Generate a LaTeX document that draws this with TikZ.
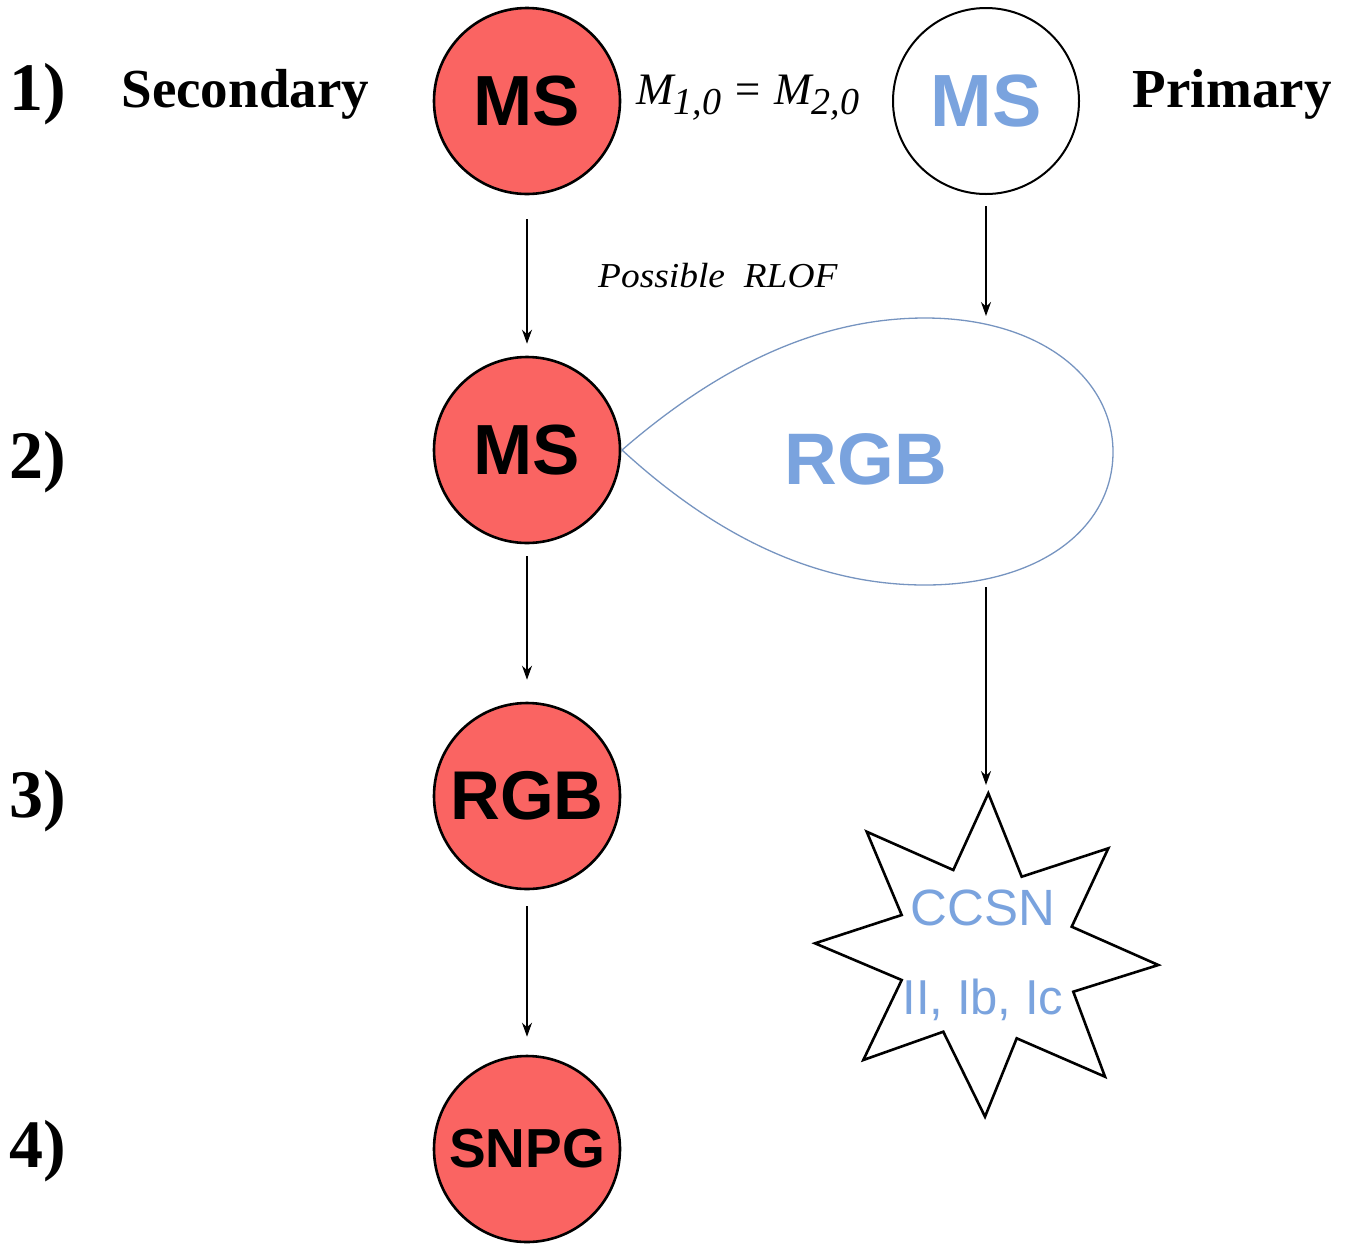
\documentclass[tikz,border=0pt]{standalone}
\usepackage{fontspec}
\setmainfont{Liberation Serif}
\newfontfamily\hv{Liberation Sans}
\usetikzlibrary{arrows.meta}
\definecolor{redfill}{RGB}{250,100,98}
\definecolor{bluetext}{RGB}{122,163,222}
\definecolor{tearline}{RGB}{118,148,192}
\tikzset{
  redcirc/.style={circle, draw=black, line width=2.6pt, fill=redfill, minimum size=186pt, inner sep=0pt, font=\hv\bfseries},
  whitecirc/.style={circle, draw=black, line width=2pt, fill=white, minimum size=186pt, inner sep=0pt, font=\hv\bfseries, text=bluetext},
  arr/.style={line width=1.4pt, -{Stealth[length=14pt,width=10pt]}},
  steplabel/.style={anchor=base west, font=\bfseries\fontsize{68}{68}\selectfont},
  sidelabel/.style={font=\bfseries\fontsize{55}{55}\selectfont},
}
\begin{document}
\begin{tikzpicture}[x=1pt,y=-1pt]
\useasboundingbox (0,0) rectangle (1351,1243);
% step labels
\node[steplabel] (l1) at (6,110) {1)};
\node[steplabel] (l2) at (6,478) {2)};
\node[steplabel] (l3) at (6,817) {3)};
\node[steplabel] (l4) at (6,1167) {4)};
\node[sidelabel, anchor=base west] (sec) at (118,107) {Secondary};
\node[sidelabel, anchor=base east] (pri) at (1335,107) {Primary};
% secondary column
\node[redcirc, font=\hv\bfseries\fontsize{71}{71}\selectfont] (ms1) at (527,101) {MS};
\node[redcirc, font=\hv\bfseries\fontsize{71}{71}\selectfont] (ms2) at (527,450) {MS};
\node[redcirc, font=\hv\bfseries\fontsize{69}{69}\selectfont] (rgb3) at (527,796) {RGB};
\node[redcirc, font=\hv\bfseries\fontsize{55}{55}\selectfont] (snpg) at (527,1149) {SNPG};
% primary
\node[whitecirc, font=\hv\bfseries\fontsize{74}{74}\selectfont] (ms1p) at (986,101) {MS};
% equation
\node[anchor=base west, inner sep=0pt, font=\itshape\fontsize{45}{45}\selectfont] (eq) at (636,104)
  {M\raisebox{-10pt}{\fontsize{38}{38}\selectfont 1,0} = M\raisebox{-10pt}{\fontsize{38}{38}\selectfont 2,0}};
\node[anchor=base west, inner sep=0pt, font=\itshape\fontsize{35}{35}\selectfont] (rlof) at (598,287)
  {\scalebox{1.07}[1]{Possible\ \ RLOF}};
% teardrop
\draw[tearline, line width=1.3pt]
  (622,450) .. controls (720,365) and (820,318) .. (925,318)
  .. controls (1040,318) and (1113,378) .. (1113,452)
  .. controls (1113,528) and (1040,585) .. (925,585)
  .. controls (820,585) and (720,540) .. (622,450) -- cycle;
\node[font=\hv\bfseries\fontsize{73}{73}\selectfont, text=bluetext] (rgbp) at (866,459) {RGB};
\coordinate (tdtop) at (986,318);
\coordinate (tdbot) at (986,587);
% star
\draw[line width=2.6pt, line join=miter, fill=white]
  (988.3,793.3) -- (1021.7,876.7) -- (1108.3,848.3) -- (1071.7,926.7) --
  (1158.3,965) -- (1073.3,991.7) -- (1105,1076.7) -- (1016.7,1038.3) --
  (985,1116.7) -- (943.3,1031.7) -- (863.3,1060) -- (901.7,980) --
  (815,943.3) -- (901.7,915) -- (866.7,831.7) -- (953.3,870) -- cycle;
\coordinate (startop) at (986,793);
\node[font=\hv\fontsize{51}{51}\selectfont, text=bluetext] (ccsn) at (983,908) {CCSN};
\node[font=\hv\fontsize{49}{49}\selectfont, text=bluetext] (types) at (983,1000) {II, Ib, Ic};
% arrows
\draw[arr, shorten <=24pt, shorten >=12pt] (ms1) -- (ms2);
\draw[arr, shorten <=12pt, shorten >=22pt] (ms2) -- (rgb3);
\draw[arr, shorten <=16pt, shorten >=18pt] (rgb3) -- (snpg);
\draw[arr, shorten <=11pt, shorten >=2pt] (ms1p) -- (tdtop);
\draw[arr, shorten >=8pt] (tdbot) -- (startop);
\end{tikzpicture}
\end{document}
